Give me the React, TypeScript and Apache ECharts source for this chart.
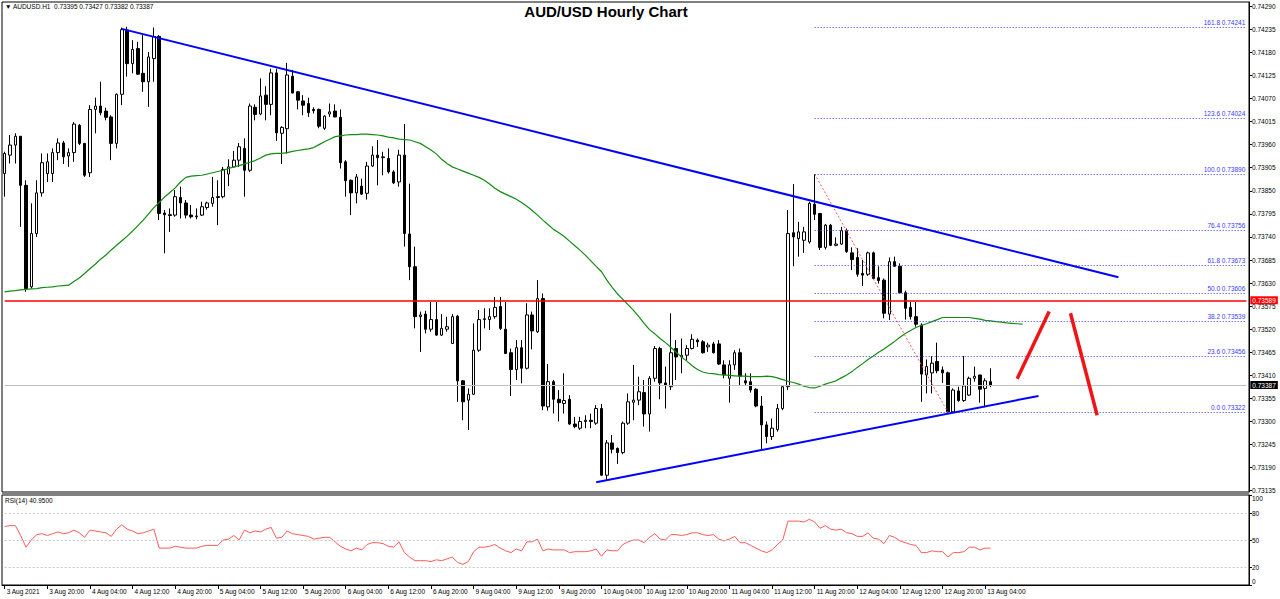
import React, { useEffect, useRef } from "react";
import * as echarts from "echarts";

const FONT = "'Liberation Sans', Arial, sans-serif";

// x-axis tick labels, one every 8 hourly bars
const xTickLabels = [
  "3 Aug 2021", "3 Aug 20:00", "4 Aug 04:00", "4 Aug 12:00", "4 Aug 20:00", "5 Aug 04:00",
  "5 Aug 12:00", "5 Aug 20:00", "6 Aug 04:00", "6 Aug 12:00", "6 Aug 20:00", "9 Aug 04:00",
  "9 Aug 12:00", "9 Aug 20:00", "10 Aug 04:00", "10 Aug 12:00", "10 Aug 20:00", "11 Aug 04:00",
  "11 Aug 12:00", "11 Aug 20:00", "12 Aug 04:00", "12 Aug 12:00", "12 Aug 20:00", "13 Aug 04:00",
];
const barsPerTick = 8;
const totalSlots = 234;

const priceTicks = [
  0.73135, 0.7319, 0.73245, 0.733, 0.73355, 0.7341, 0.73465, 0.7352, 0.73575, 0.7363, 0.73685,
  0.7374, 0.73795, 0.7385, 0.73905, 0.7396, 0.74015, 0.7407, 0.74125, 0.7418, 0.74235, 0.7429,
];
const rsiTicks = [0, 20, 50, 80, 100];
const rsiLevels = [80, 50, 20];

// hourly candles: [open, high, low, close]
const ohlc: number[][] = [
  [0.73891, 0.73943, 0.73836, 0.73939], [0.73935, 0.73983, 0.73915, 0.73959], [0.73959, 0.73987, 0.73915, 0.7398],
  [0.7398, 0.7398, 0.73764, 0.73863], [0.73863, 0.73875, 0.73609, 0.73617], [0.73621, 0.7382, 0.73617, 0.73748],
  [0.73748, 0.73875, 0.7374, 0.73845], [0.73845, 0.73939, 0.73836, 0.73917], [0.73891, 0.73939, 0.73871, 0.73919],
  [0.73891, 0.73951, 0.73871, 0.73941], [0.73941, 0.73975, 0.73923, 0.73964], [0.73964, 0.73969, 0.73914, 0.73931],
  [0.73933, 0.73951, 0.73907, 0.73941], [0.73941, 0.74014, 0.73919, 0.74009], [0.74006, 0.74009, 0.73959, 0.73963],
  [0.73963, 0.73964, 0.73883, 0.73887], [0.73893, 0.74054, 0.73883, 0.74044], [0.74044, 0.74072, 0.73987, 0.74052],
  [0.74052, 0.7411, 0.7403, 0.74036], [0.7404, 0.74048, 0.74018, 0.74025], [0.74026, 0.7403, 0.73923, 0.73963],
  [0.73963, 0.74082, 0.73951, 0.7408], [0.7408, 0.74239, 0.74054, 0.74234], [0.74233, 0.74241, 0.74122, 0.74153],
  [0.74153, 0.74209, 0.7413, 0.74187], [0.74189, 0.74205, 0.74126, 0.74128], [0.7413, 0.74221, 0.74086, 0.7411],
  [0.7411, 0.74181, 0.7405, 0.74169], [0.74165, 0.74239, 0.7411, 0.74218], [0.74218, 0.74221, 0.7378, 0.73796],
  [0.73797, 0.73804, 0.73701, 0.73793], [0.73793, 0.73808, 0.73752, 0.73791], [0.73792, 0.73852, 0.73788, 0.73836],
  [0.73834, 0.7386, 0.73784, 0.73821], [0.73821, 0.73828, 0.73784, 0.73792], [0.73792, 0.73816, 0.73784, 0.73788],
  [0.73788, 0.73808, 0.73782, 0.7379], [0.73792, 0.73824, 0.7379, 0.73812], [0.7381, 0.73824, 0.73805, 0.73821],
  [0.7382, 0.73883, 0.73812, 0.73834], [0.73836, 0.73875, 0.73768, 0.73834], [0.73836, 0.73907, 0.73832, 0.73901],
  [0.7389, 0.73925, 0.73861, 0.73907], [0.73907, 0.73945, 0.73906, 0.73923], [0.73923, 0.73964, 0.73907, 0.73955],
  [0.73951, 0.73975, 0.73836, 0.73899], [0.73899, 0.74058, 0.73895, 0.74052], [0.74049, 0.74056, 0.74018, 0.74032],
  [0.74033, 0.74118, 0.7403, 0.74076], [0.74078, 0.74099, 0.74018, 0.74056], [0.74056, 0.74141, 0.7403, 0.74131],
  [0.74131, 0.74141, 0.73969, 0.73988], [0.73987, 0.74004, 0.73914, 0.74001], [0.73998, 0.74155, 0.73939, 0.74126],
  [0.74123, 0.74138, 0.74082, 0.74083], [0.74086, 0.74088, 0.74044, 0.74066], [0.74064, 0.74078, 0.7403, 0.74054],
  [0.74058, 0.74072, 0.74026, 0.74036], [0.74044, 0.74049, 0.74034, 0.74041], [0.74044, 0.74046, 0.73999, 0.74004],
  [0.73999, 0.7403, 0.73995, 0.74028], [0.74033, 0.74058, 0.74026, 0.74038], [0.7404, 0.74056, 0.74025, 0.74026],
  [0.74025, 0.74044, 0.73903, 0.73917], [0.73919, 0.73923, 0.73836, 0.73874], [0.73875, 0.73877, 0.73792, 0.73845],
  [0.73845, 0.7389, 0.7382, 0.73883], [0.73861, 0.73879, 0.7384, 0.73842], [0.73844, 0.73919, 0.73829, 0.73909],
  [0.73909, 0.73956, 0.73907, 0.73935], [0.73935, 0.73971, 0.73863, 0.73929], [0.73929, 0.73943, 0.73887, 0.73931],
  [0.73927, 0.73951, 0.73891, 0.73895], [0.73895, 0.73899, 0.73866, 0.73869], [0.73871, 0.73948, 0.7386, 0.73935],
  [0.73935, 0.74009, 0.73717, 0.73748], [0.73747, 0.73867, 0.73637, 0.73669], [0.73669, 0.73717, 0.73522, 0.7355],
  [0.7355, 0.73562, 0.73466, 0.73554], [0.73556, 0.73564, 0.7351, 0.7352], [0.7352, 0.73585, 0.73514, 0.73543],
  [0.73543, 0.73585, 0.73504, 0.73506], [0.73506, 0.73556, 0.73504, 0.73522], [0.7352, 0.7355, 0.73514, 0.73526],
  [0.73486, 0.73556, 0.73485, 0.7355], [0.73551, 0.73554, 0.73347, 0.73397], [0.73397, 0.73399, 0.73303, 0.73347],
  [0.73351, 0.73379, 0.7328, 0.73365], [0.73365, 0.73534, 0.73363, 0.7347], [0.7347, 0.73566, 0.73466, 0.73543],
  [0.73543, 0.7357, 0.73522, 0.73545], [0.73543, 0.7357, 0.73518, 0.7355], [0.7355, 0.73597, 0.73545, 0.73572],
  [0.73574, 0.73597, 0.73518, 0.73522], [0.7352, 0.73585, 0.73461, 0.73462], [0.73464, 0.73474, 0.73361, 0.73424],
  [0.73424, 0.73494, 0.73399, 0.73476], [0.73476, 0.73494, 0.73391, 0.73427], [0.73427, 0.73582, 0.73424, 0.73554],
  [0.73554, 0.73562, 0.73472, 0.73516], [0.73514, 0.73637, 0.73511, 0.73593], [0.73593, 0.73605, 0.73327, 0.73337],
  [0.73335, 0.73437, 0.73326, 0.73395], [0.73395, 0.73399, 0.73319, 0.73353], [0.73353, 0.73375, 0.733, 0.73345],
  [0.73343, 0.73415, 0.73319, 0.7335], [0.73353, 0.73363, 0.73292, 0.73294], [0.73294, 0.73311, 0.73284, 0.73288],
  [0.73284, 0.73311, 0.7328, 0.733], [0.733, 0.73315, 0.73284, 0.73303], [0.73303, 0.73319, 0.73284, 0.733],
  [0.73296, 0.73339, 0.73292, 0.73331], [0.73331, 0.73342, 0.7317, 0.73172], [0.73172, 0.73256, 0.73161, 0.73249],
  [0.73249, 0.73268, 0.73224, 0.73234], [0.73236, 0.73238, 0.73199, 0.73226], [0.73226, 0.733, 0.73222, 0.73296],
  [0.73296, 0.73367, 0.73292, 0.73347], [0.73346, 0.73435, 0.73303, 0.73351], [0.73351, 0.73407, 0.73339, 0.73371],
  [0.73369, 0.73399, 0.73288, 0.73318], [0.73318, 0.73408, 0.73276, 0.73403], [0.73403, 0.7348, 0.73395, 0.73474],
  [0.73474, 0.73478, 0.73353, 0.73392], [0.73392, 0.73431, 0.73331, 0.73387], [0.73383, 0.73558, 0.73375, 0.73464],
  [0.73474, 0.73494, 0.73399, 0.73454], [0.73454, 0.73498, 0.73415, 0.73458], [0.73458, 0.73482, 0.73446, 0.73474],
  [0.73474, 0.73508, 0.73472, 0.73496], [0.73494, 0.73498, 0.73478, 0.7349], [0.7349, 0.73494, 0.73462, 0.73464],
  [0.73478, 0.73488, 0.73466, 0.73482], [0.73485, 0.7349, 0.73462, 0.73464], [0.73485, 0.73494, 0.73435, 0.73437],
  [0.73435, 0.73446, 0.73403, 0.73411], [0.73403, 0.73446, 0.73345, 0.73435], [0.73435, 0.7347, 0.73423, 0.73464],
  [0.73464, 0.73474, 0.73385, 0.73408], [0.73397, 0.73415, 0.73387, 0.73392], [0.73395, 0.73415, 0.73369, 0.73375],
  [0.73377, 0.73379, 0.73334, 0.73337], [0.73337, 0.73361, 0.73232, 0.73292], [0.73292, 0.733, 0.73248, 0.73264],
  [0.73264, 0.73307, 0.73256, 0.73284], [0.73281, 0.73342, 0.73276, 0.73331], [0.73331, 0.73387, 0.73327, 0.73383],
  [0.73383, 0.73804, 0.73375, 0.73748], [0.7375, 0.73866, 0.7367, 0.7374], [0.73736, 0.73776, 0.73693, 0.73752],
  [0.73732, 0.73764, 0.73702, 0.73752], [0.73728, 0.73824, 0.73724, 0.7382], [0.73818, 0.7389, 0.7378, 0.73794],
  [0.73796, 0.73797, 0.73709, 0.73715], [0.73715, 0.73771, 0.7371, 0.73768], [0.73768, 0.73771, 0.73718, 0.7372],
  [0.7372, 0.73739, 0.73718, 0.73723], [0.73723, 0.73764, 0.73721, 0.73755], [0.73755, 0.7376, 0.73702, 0.73705],
  [0.73702, 0.73715, 0.73661, 0.73686], [0.73691, 0.73713, 0.73645, 0.73651], [0.73653, 0.73685, 0.73623, 0.73649],
  [0.73651, 0.73705, 0.73647, 0.73702], [0.73702, 0.73705, 0.73639, 0.73641], [0.73643, 0.7367, 0.73629, 0.73636],
  [0.73637, 0.73641, 0.73546, 0.73558], [0.73556, 0.73691, 0.73542, 0.73681], [0.73681, 0.73693, 0.73669, 0.7367],
  [0.7367, 0.73677, 0.73605, 0.73607], [0.73607, 0.73612, 0.73543, 0.7357], [0.73572, 0.73585, 0.73543, 0.7355],
  [0.7355, 0.73585, 0.73526, 0.73532], [0.7353, 0.73534, 0.73347, 0.73413], [0.73411, 0.73448, 0.73367, 0.73431],
  [0.73416, 0.73456, 0.73367, 0.73439], [0.73443, 0.73488, 0.73415, 0.73421], [0.73423, 0.73431, 0.73392, 0.73416],
  [0.73416, 0.73419, 0.73322, 0.73323], [0.73323, 0.73379, 0.73324, 0.73375], [0.73373, 0.73383, 0.73347, 0.7335],
  [0.7335, 0.73456, 0.73347, 0.73385], [0.73363, 0.73407, 0.73361, 0.73403], [0.73403, 0.73431, 0.73395, 0.73408],
  [0.73411, 0.73411, 0.73345, 0.73377], [0.73379, 0.73403, 0.73334, 0.73397], [0.73395, 0.73427, 0.73382, 0.73387],
];

// shifted moving average (green)
const maValues = [
  0.73609, 0.73611, 0.73612, 0.73614, 0.73615, 0.73616, 0.73617, 0.73619, 0.7362, 0.73621,
  0.73623, 0.73624, 0.73625, 0.73634, 0.73642, 0.73653, 0.73664, 0.73675, 0.73687, 0.73697,
  0.73709, 0.7372, 0.73731, 0.73742, 0.73754, 0.73767, 0.7378, 0.73795, 0.7381, 0.73822,
  0.73835, 0.73846, 0.73857, 0.73871, 0.73882, 0.73885, 0.73886, 0.73887, 0.7389, 0.73893,
  0.73896, 0.73899, 0.73903, 0.73907, 0.7391, 0.73914, 0.73918, 0.73922, 0.73928, 0.73935,
  0.73938, 0.73939, 0.73939, 0.73941, 0.73944, 0.73946, 0.73948, 0.7395, 0.73953, 0.7396,
  0.73967, 0.73973, 0.73979, 0.73981, 0.73983, 0.73984, 0.73984, 0.73985, 0.73985, 0.73984,
  0.73983, 0.73981, 0.73978, 0.73976, 0.73973, 0.73972, 0.73971, 0.73967, 0.73963, 0.73955,
  0.73947, 0.73938, 0.73925, 0.73915, 0.73907, 0.73902, 0.73897, 0.73892, 0.73887, 0.73882,
  0.73875, 0.73866, 0.73856, 0.73848, 0.73842, 0.73836, 0.7383, 0.73822, 0.73813, 0.73803,
  0.73792, 0.7378, 0.73769, 0.73758, 0.7375, 0.73741, 0.7373, 0.73719, 0.73708, 0.73696,
  0.73683, 0.7367, 0.73657, 0.73637, 0.7362, 0.73604, 0.73591, 0.73578, 0.73565, 0.7355,
  0.73534, 0.73519, 0.73509, 0.73498, 0.73488, 0.73477, 0.73465, 0.73454, 0.73444, 0.73433,
  0.73424, 0.73418, 0.73415, 0.73414, 0.73412, 0.73411, 0.7341, 0.73409, 0.73408, 0.73408,
  0.73407, 0.73407, 0.73407, 0.73408, 0.73407, 0.73404, 0.734, 0.73396, 0.73393, 0.73389,
  0.73384, 0.73381, 0.7338, 0.73384, 0.73389, 0.73393, 0.73397, 0.73404, 0.73411, 0.73419,
  0.73429, 0.73438, 0.73448, 0.73456, 0.73465, 0.73473, 0.73482, 0.73491, 0.73501, 0.7351,
  0.73517, 0.73524, 0.73529, 0.73533, 0.73538, 0.73543, 0.73548, 0.73548, 0.73548, 0.73548,
  0.73548, 0.73548, 0.73546, 0.73544, 0.73541, 0.7354, 0.73538, 0.73537, 0.73535, 0.73534,
  0.73533, 0.73532,
];

// RSI(14)
const rsiValues = [
  65, 66, 66, 55, 42, 50, 56, 57, 55, 57, 59, 57, 58, 61, 58, 53, 61, 60, 59, 58,
  54, 62, 67, 62, 60, 57, 58, 60, 62, 41, 41, 41, 43, 42, 41, 41, 41, 43, 44, 44,
  44, 50, 51, 55, 50, 61, 58, 60, 59, 62, 64, 52, 53, 60, 57, 56, 55, 54, 51, 52,
  53, 53, 48, 43, 40, 38, 41, 39, 45, 47, 47, 46, 43, 42, 48, 36, 31, 27, 27, 27,
  26, 28, 27, 29, 31, 25, 23, 26, 37, 42, 42, 43, 45, 41, 38, 36, 40, 38, 48, 48,
  51, 38, 40, 39, 39, 39, 36, 37, 37, 37, 38, 40, 32, 39, 38, 38, 45, 48, 50, 50,
  47, 53, 57, 51, 50, 56, 56, 55, 56, 58, 58, 56, 55, 56, 51, 49, 51, 54, 47, 47,
  44, 41, 38, 36, 39, 45, 50, 71, 71, 71, 70, 73, 70, 63, 66, 62, 61, 62, 58, 57,
  54, 54, 58, 52, 51, 46, 55, 53, 49, 47, 45, 44, 36, 36, 38, 37, 37, 31, 36, 36,
  37, 42, 42, 39, 41, 41,
];

// drawn lines: [bar index, price]
const upperTrend = [[22, 0.74236], [209, 0.73644]];
const lowerTrend = [[111, 0.73155], [194, 0.73361]];
const arrowUp = [[190, 0.73402], [196, 0.73562]];
const arrowDown = [[200, 0.73558], [205, 0.73315]];
const fibDiagonal = [[152, 0.7389], [177, 0.73322]];

// Fibonacci levels
const fibStart = 152;
const fibPct = ["161.8", "123.6", "100.0", "76.4", "61.8", "50.0", "38.2", "23.6", "0.0"];
const fibVal = [0.74241, 0.74024, 0.7389, 0.73756, 0.73673, 0.73606, 0.73539, 0.73456, 0.73322];

const resistance = 0.73589;
const bidPrice = 0.73387;
const lastBar = { o: 0.73395, h: 0.73427, l: 0.73382, c: 0.73387 };
const rsiLast = 40.95;

export default function App() {
  const ref = useRef<HTMLDivElement>(null);

  useEffect(() => {
    document.body.style.margin = "0";
    const chart = echarts.init(ref.current!, null, { renderer: "svg" });
    const cats = Array.from({ length: totalSlots }, (_, i) => String(i));
    const showTick = (i: number) => i % barsPerTick === 0 && i / barsPerTick < xTickLabels.length;
    const lastSlot = totalSlots - 1;

    const fibLines = fibPct.map((p, i) => [
      {
        coord: [fibStart, fibVal[i]],
        lineStyle: { color: "#3a3aff", type: [1, 2], width: 1 },
        label: {
          show: true,
          position: "insideEndTop",
          formatter: `${p} ${fibVal[i].toFixed(5)}`,
          color: "#3a3aff",
          fontSize: 6.5,
          fontFamily: FONT,
          distance: 1,
        },
      },
      { coord: [lastSlot, fibVal[i]] },
    ]);

    const priceLabel = (txt: string, bg: string) => ({
      show: true, position: "end", formatter: txt, color: "#fff",
      backgroundColor: bg, padding: [1, 2, 0, 2], fontSize: 6.5, fontFamily: FONT, distance: 4,
    });

    const hLine = (v: number, color: string, width: number, bg: string) => [
      {
        coord: [0, v],
        lineStyle: { color, type: "solid", width },
        label: priceLabel(v.toFixed(5), bg),
      },
      { coord: [lastSlot, v] },
    ];

    const option: any = {
      animation: false,
      backgroundColor: "#ffffff",
      grid: [
        { left: 2, top: 2, width: 1247, height: 490, show: true, borderColor: "#000", borderWidth: 1, outerBoundsMode: "none" },
        { left: 2, top: 495, width: 1247, height: 90, show: true, borderColor: "#000", borderWidth: 1, outerBoundsMode: "none" },
      ],
      xAxis: [
        {
          type: "category", gridIndex: 0, data: cats, boundaryGap: true,
          axisLine: { show: false }, axisTick: { show: false }, axisLabel: { show: false }, splitLine: { show: false },
        },
        {
          type: "category", gridIndex: 1, data: cats, boundaryGap: true,
          axisLine: { show: true, lineStyle: { color: "#000" } },
          axisTick: { show: true, alignWithLabel: true, interval: (i: number) => showTick(i), length: 4, lineStyle: { color: "#000" } },
          axisLabel: {
            interval: (i: number) => showTick(i),
            formatter: (v: string) => xTickLabels[Number(v) / barsPerTick] ?? "",
            align: "left", margin: 3, fontSize: 6.5, color: "#000", fontFamily: FONT, padding: [0, 0, 0, 2],
          },
          splitLine: { show: false },
        },
      ],
      yAxis: [
        {
          type: "value", gridIndex: 0, position: "right", min: 0.73132, max: 0.743, scale: true,
          axisLine: { show: true, lineStyle: { color: "#000" } },
          axisTick: { show: true, customValues: priceTicks, length: 3, lineStyle: { color: "#000" } },
          axisLabel: {
            customValues: priceTicks, formatter: (v: number) => v.toFixed(5),
            fontSize: 6.5, color: "#000", fontFamily: FONT, margin: 3,
          },
          splitLine: { show: false },
        },
        {
          type: "value", gridIndex: 1, position: "right", min: 0, max: 100,
          axisLine: { show: true, lineStyle: { color: "#000" } },
          axisTick: { show: true, customValues: rsiTicks, length: 3, lineStyle: { color: "#000" } },
          axisLabel: {
            customValues: rsiTicks, fontSize: 6.5, color: "#000", fontFamily: FONT, margin: 3,
            verticalAlignMaxLabel: "top", verticalAlignMinLabel: "bottom",
          },
          splitLine: { show: false },
        },
      ],
      series: [
        {
          type: "line", name: "bid", xAxisIndex: 0, yAxisIndex: 0, data: [],
          showSymbol: false, z: 1,
          markLine: {
            silent: true, symbol: ["none", "none"], animation: false,
            data: [hLine(bidPrice, "#c0c0c0", 1, "#000")],
          },
        },
        {
          type: "candlestick",
          xAxisIndex: 0, yAxisIndex: 0,
          data: ohlc.map(([o, h, l, c]) => [o, c, l, h]),
          barWidth: 3,
          itemStyle: { color: "#ffffff", color0: "#000000", borderColor: "#000000", borderColor0: "#000000", borderWidth: 1 },
          markLine: {
            silent: true, symbol: ["none", "none"], animation: false,
            data: fibLines,
          },
          z: 3,
        },
        {
          type: "line", name: "MA", xAxisIndex: 0, yAxisIndex: 0, data: maValues,
          showSymbol: false, lineStyle: { color: "#128c12", width: 1.2 }, z: 4,
          markLine: {
            silent: true, symbol: ["none", "none"], animation: false,
            data: [hLine(resistance, "#ff0000", 1.5, "#ff0000")],
          },
        },
        {
          type: "line", xAxisIndex: 0, yAxisIndex: 0, data: fibDiagonal,
          showSymbol: false, lineStyle: { color: "#ff5a5a", width: 1, type: [2, 2] }, z: 4,
        },
        {
          type: "line", xAxisIndex: 0, yAxisIndex: 0, data: upperTrend,
          showSymbol: false, lineStyle: { color: "#0000ff", width: 2 }, z: 5,
        },
        {
          type: "line", xAxisIndex: 0, yAxisIndex: 0, data: lowerTrend,
          showSymbol: false, lineStyle: { color: "#0000ff", width: 2 }, z: 5,
        },
        {
          type: "line", xAxisIndex: 0, yAxisIndex: 0, data: arrowUp,
          showSymbol: false, lineStyle: { color: "#f01414", width: 3.5 }, z: 5,
        },
        {
          type: "line", xAxisIndex: 0, yAxisIndex: 0, data: arrowDown,
          showSymbol: false, lineStyle: { color: "#f01414", width: 3.5 }, z: 5,
        },
        {
          type: "line", name: "RSI", xAxisIndex: 1, yAxisIndex: 1, data: rsiValues,
          showSymbol: false, lineStyle: { color: "#ff5a5a", width: 1 },
          markLine: {
            silent: true, symbol: ["none", "none"], label: { show: false },
            lineStyle: { color: "#c8c8c8", type: [2, 2], width: 1 },
            data: rsiLevels.map((v) => [{ coord: [0, v] }, { coord: [lastSlot, v] }]),
          },
        },
      ],
      graphic: [
        { type: "rect", left: 2, top: 492, shape: { width: 1247, height: 3 }, style: { fill: "#808080" }, z: 10 },
        {
          type: "text", left: 5, top: 3,
          style: {
            text: `▼ AUDUSD.H1  ${lastBar.o.toFixed(5)} ${lastBar.h.toFixed(5)} ${lastBar.l.toFixed(5)} ${lastBar.c.toFixed(5)}`,
            fontSize: 6.5, fill: "#000", fontFamily: FONT,
          },
        },
        {
          type: "text", x: 606, y: 11,
          style: {
            text: "AUD/USD Hourly Chart", fontSize: 15, fontWeight: "bold", fill: "#000", fontFamily: FONT,
            align: "center", verticalAlign: "middle",
          },
        },
        {
          type: "text", left: 5, top: 497,
          style: { text: `RSI(14) ${rsiLast.toFixed(4)}`, fontSize: 6.5, fill: "#000", fontFamily: FONT },
        },
      ],
    };

    chart.setOption(option);
    return () => chart.dispose();
  }, []);

  return <div ref={ref} style={{ width: 1280, height: 599, background: "#fff" }} />;
}
